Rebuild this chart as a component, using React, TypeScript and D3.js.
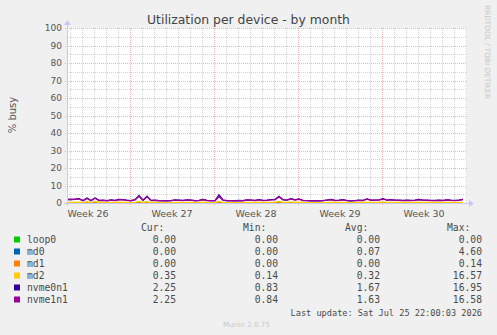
import React from "react";
import * as d3 from "d3";

const W = 497;
const H = 335;

const title = "Utilization per device - by month";
const yAxisLabel = "% busy";
const yTicks = [0, 10, 20, 30, 40, 50, 60, 70, 80, 90, 100];
const weekLabels = ["Week 26", "Week 27", "Week 28", "Week 29", "Week 30"];
const weekStarts = ["2026-06-22", "2026-06-29", "2026-07-06", "2026-07-13", "2026-07-20"];

const seriesNames = ["loop0", "md0", "md1", "md2", "nvme0n1", "nvme1n1"];
const seriesColors = ["#00CC00", "#0066B3", "#FF8000", "#FFCC00", "#330099", "#990099"];
const curVals = ["0.00", "0.00", "0.00", "0.35", "2.25", "2.25"];
const minVals = ["0.00", "0.00", "0.00", "0.14", "0.83", "0.84"];
const avgVals = ["0.00", "0.07", "0.00", "0.32", "1.67", "1.63"];
const maxVals = ["0.00", "4.60", "0.14", "16.57", "16.95", "16.58"];
const lastUpdate = "Last update: Sat Jul 25 22:00:03 2026";
const version = "Munin 2.0.75";

// samples every 8 hours starting 2026-06-23 18:00 UTC
const startTime = Date.UTC(2026, 5, 23, 18, 0, 0);
const stepHours = 8;

const nvme1n1 = [
  2.0, 2.0, 2.1, 2.4, 1.3, 2.6, 1.3, 2.7, 1.4, 1.5,
  1.3, 1.6, 1.4, 1.9, 1.8, 1.5, 1.3, 1.8, 3.8, 1.5,
  3.5, 1.4, 1.5, 1.3, 1.3, 1.2, 1.3, 1.6, 1.5, 1.4,
  1.7, 1.6, 1.3, 1.4, 1.9, 1.4, 1.3, 1.3, 3.6, 1.6,
  1.3, 1.3, 1.2, 1.4, 1.3, 1.7, 1.6, 1.4, 1.8, 1.4,
  1.5, 1.8, 1.9, 3.5, 1.8, 1.6, 2.4, 1.7, 2.2, 1.4,
  1.3, 1.2, 1.3, 1.2, 1.3, 1.6, 1.9, 1.4, 1.5, 1.8,
  1.3, 1.2, 1.3, 1.5, 1.4, 2.2, 1.5, 1.6, 1.7, 2.3,
  1.6, 1.8, 1.5, 1.5, 1.4, 1.5, 1.4, 1.5, 1.9, 1.6,
  1.5, 1.4, 1.4, 1.5, 1.4, 1.7, 1.5, 1.4, 1.6, 2.0,
];
const nvme0n1 = [
  2.1, 2.0, 2.2, 2.5, 1.4, 2.8, 1.4, 2.9, 1.5, 1.6,
  1.4, 1.7, 1.5, 2.0, 1.9, 1.6, 1.4, 1.9, 4.3, 1.6,
  3.9, 1.5, 1.6, 1.4, 1.4, 1.3, 1.4, 1.7, 1.6, 1.5,
  1.8, 1.7, 1.4, 1.5, 2.0, 1.5, 1.4, 1.4, 4.6, 1.7,
  1.4, 1.4, 1.3, 1.5, 1.4, 1.8, 1.7, 1.5, 1.9, 1.5,
  1.6, 1.9, 2.0, 3.8, 1.9, 1.7, 2.5, 1.8, 2.3, 1.5,
  1.4, 1.3, 1.4, 1.3, 1.4, 1.7, 2.0, 1.5, 1.6, 1.9,
  1.4, 1.3, 1.4, 1.6, 1.5, 2.3, 1.6, 1.7, 1.8, 2.4,
  1.7, 1.9, 1.6, 1.6, 1.5, 1.6, 1.5, 1.6, 2.0, 1.7,
  1.6, 1.5, 1.5, 1.6, 1.5, 1.8, 1.6, 1.5, 1.7, 2.1,
];
const md2 = [
  0.3, 0.3, 0.4, 0.5, 0.2, 0.8, 0.2, 0.9, 0.3, 0.3,
  0.2, 0.4, 0.3, 0.5, 0.4, 0.3, 0.2, 0.4, 0.9, 0.3,
  0.8, 0.2, 0.3, 0.2, 0.2, 0.2, 0.2, 0.3, 0.3, 0.2,
  0.4, 0.3, 0.2, 0.3, 0.5, 0.3, 0.2, 0.2, 0.9, 0.3,
  0.2, 0.2, 0.2, 0.3, 0.2, 0.4, 0.3, 0.3, 0.5, 0.3,
  0.3, 0.4, 0.5, 0.9, 0.4, 0.3, 0.6, 0.4, 0.5, 0.3,
  0.2, 0.2, 0.2, 0.2, 0.2, 0.3, 0.5, 0.3, 0.3, 0.4,
  0.2, 0.2, 0.2, 0.3, 0.3, 0.5, 0.3, 0.3, 0.4, 0.6,
  0.3, 0.4, 0.3, 0.3, 0.3, 0.3, 0.3, 0.3, 0.5, 0.3,
  0.3, 0.3, 0.3, 0.3, 0.3, 0.4, 0.3, 0.3, 0.3, 0.4,
];
const md0 = [
  0.0, 0.0, 0.1, 0.0, 0.0, 0.1, 0.0, 0.1, 0.0, 0.0,
  0.0, 0.0, 0.0, 0.1, 0.0, 0.0, 0.0, 0.0, 0.3, 0.0,
  0.2, 0.0, 0.0, 0.0, 0.0, 0.0, 0.0, 0.0, 0.0, 0.0,
  0.0, 0.0, 0.0, 0.0, 0.1, 0.0, 0.0, 0.0, 0.3, 0.0,
  0.0, 0.0, 0.0, 0.0, 0.0, 0.0, 0.0, 0.0, 0.1, 0.0,
  0.0, 0.0, 0.1, 0.3, 0.0, 0.0, 0.1, 0.0, 0.1, 0.0,
  0.0, 0.0, 0.0, 0.0, 0.0, 0.0, 0.1, 0.0, 0.0, 0.0,
  0.0, 0.0, 0.0, 0.0, 0.0, 0.1, 0.0, 0.0, 0.0, 0.1,
  0.0, 0.0, 0.0, 0.0, 0.0, 0.0, 0.0, 0.0, 0.1, 0.0,
  0.0, 0.0, 0.0, 0.0, 0.0, 0.0, 0.0, 0.0, 0.0, 0.0,
];
const md1 = md0.map(() => 0);
const loop0 = md0.map(() => 0);

const PL = 67, PR = 467, PT = 28, PB = 203;

export default function App() {
  const domainEnd = startTime + (400 / 12) * 24 * 3600 * 1000;
  const x = d3.scaleUtc().domain([new Date(startTime), new Date(domainEnd)]).range([PL, PR]);
  const y = d3.scaleLinear().domain([0, 100]).range([PB, PT]);

  const t = (i: number) => new Date(startTime + i * stepHours * 3600 * 1000);
  const line = d3
    .line<number>()
    .x((_, i) => x(t(i)))
    .y((v) => y(v))
    .curve(d3.curveLinear);

  const days = d3.utcDay.range(new Date(startTime), new Date(domainEnd));
  const weekDates = weekStarts.map((s) => new Date(s + "T00:00:00Z"));
  const isWeek = (d: Date) => weekDates.some((w) => w.getTime() === d.getTime());
  const minorY = d3.range(5, 100, 10);

  const data = [loop0, md0, md1, md2, nvme0n1, nvme1n1];
  const sans = "DejaVu Sans, sans-serif";
  const mono = "DejaVu Sans Mono, monospace";
  const axisColor = "#c8c8f8";
  const majorColor = "#f2b0b0";
  const minorColor = "#d4d4d4";
  const legendY0 = 242.5;
  const rowH = 12;

  return (
    <svg width={W} height={H} style={{ display: "block", position: "absolute", left: 0, top: 0 }}>
      <rect x={0} y={0} width={W} height={H} fill="#f0f0f0" />
      <rect x={PL} y={PT} width={PR - PL} height={PB - PT} fill="#ffffff" />
      {/* minor horizontal grid */}
      {minorY.map((v) => (
        <line key={"mh" + v} x1={PL} x2={PR} y1={Math.round(y(v)) + 0.5} y2={Math.round(y(v)) + 0.5}
          stroke={minorColor} strokeDasharray="1,1" />
      ))}
      {/* minor vertical grid */}
      {days.filter((d) => !isWeek(d)).map((d) => (
        <line key={"mv" + d.getTime()} x1={Math.round(x(d)) + 0.5} x2={Math.round(x(d)) + 0.5} y1={PT} y2={PB}
          stroke={minorColor} strokeDasharray="1,1" />
      ))}
      {/* major horizontal grid */}
      {yTicks.filter((v) => v > 0).map((v) => (
        <line key={"Mh" + v} x1={PL - 2} x2={PR} y1={Math.round(y(v)) + 0.5} y2={Math.round(y(v)) + 0.5}
          stroke={majorColor} strokeDasharray="1,1" />
      ))}
      {/* major vertical grid */}
      {weekDates.filter((d) => x(d) > PL).map((d) => (
        <line key={"Mv" + d.getTime()} x1={Math.round(x(d)) + 0.5} x2={Math.round(x(d)) + 0.5} y1={PT} y2={PB + 2}
          stroke={majorColor} strokeDasharray="1,1" />
      ))}
      {/* y tick labels */}
      {yTicks.map((v) => (
        <text key={"yl" + v} x={62} y={y(v) + 3.3} textAnchor="end" fontFamily={sans} fontSize={9} fill="#555">
          {v}
        </text>
      ))}
      {/* x labels */}
      {weekLabels.map((l, i) => (
        <text key={l} x={x(new Date(weekDates[i].getTime() + 3.5 * 86400000))} y={217} textAnchor="middle"
          fontFamily={sans} fontSize={9.5} fill="#555">
          {l}
        </text>
      ))}
      {/* series */}
      {data.map((s, k) => (
        <path key={seriesNames[k]} d={line(s) || ""} fill="none" stroke={seriesColors[k]} strokeWidth={1.3} />
      ))}
      {/* axes */}
      <line x1={PL - 3} x2={PR + 3} y1={PB + 0.5} y2={PB + 0.5} stroke={axisColor} />
      <line x1={PL + 0.5} x2={PL + 0.5} y1={PB + 3} y2={PT - 4} stroke={axisColor} />
      <path d={`M${PR + 2},${PB - 3} L${PR + 7},${PB + 0.5} L${PR + 2},${PB + 4} Z`} fill={axisColor} />
      <path d={`M${PL - 3},${PT - 3} L${PL + 0.5},${PT - 8} L${PL + 4},${PT - 3} Z`} fill={axisColor} />
      {/* title */}
      <text x={248.5} y={24} textAnchor="middle" fontFamily={sans} fontSize={12.4} fill="#444">{title}</text>
      <text transform={`translate(16,115) rotate(-90)`} textAnchor="middle" fontFamily={sans} fontSize={10} fill="#555">
        {yAxisLabel}
      </text>
      <text transform={`translate(485,5) rotate(90)`} textAnchor="start" fontFamily={sans} fontSize={7.3} fill="#c8c8c8">
        RRDTOOL / TOBI OETIKER
      </text>
      {/* legend */}
      <g fontFamily={mono} fontSize={9.7} fill="#4a4a4a">
        <text x={141} y={230.5}>Cur:</text>
        <text x={243} y={230.5}>Min:</text>
        <text x={345} y={230.5}>Avg:</text>
        <text x={447} y={230.5}>Max:</text>
        {seriesNames.map((n, i) => (
          <g key={n}>
            <rect x={14} y={legendY0 + i * rowH - 6} width={6} height={6} fill={seriesColors[i]} />
            <text x={27} y={legendY0 + i * rowH}>{n}</text>
            <text x={176} y={legendY0 + i * rowH} textAnchor="end">{curVals[i]}</text>
            <text x={278} y={legendY0 + i * rowH} textAnchor="end">{minVals[i]}</text>
            <text x={380} y={legendY0 + i * rowH} textAnchor="end">{avgVals[i]}</text>
            <text x={482} y={legendY0 + i * rowH} textAnchor="end">{maxVals[i]}</text>
          </g>
        ))}
        <text x={482} y={316} textAnchor="end" fontSize={8.6}>{lastUpdate}</text>
      </g>
      <text x={246.5} y={327} textAnchor="middle" fontFamily={sans} fontSize={7.2} fill="#c8c8c8">{version}</text>
    </svg>
  );
}
